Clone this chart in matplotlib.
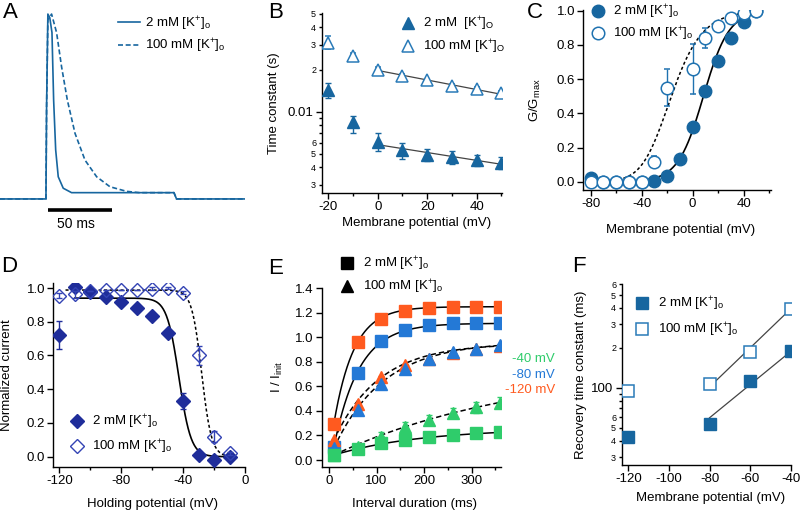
import matplotlib
matplotlib.use("Agg")
import matplotlib.pyplot as plt
import numpy as np
from matplotlib.lines import Line2D
from matplotlib.ticker import MultipleLocator, FuncFormatter, LogLocator

plt.rcParams['font.family'] = ['Liberation Sans', 'DejaVu Sans']
plt.rcParams['mathtext.fontset'] = 'custom'
plt.rcParams['mathtext.rm'] = 'Liberation Sans'
plt.rcParams['mathtext.it'] = 'Liberation Sans:italic'
plt.rcParams['mathtext.default'] = 'regular'
plt.rcParams['axes.unicode_minus'] = False
plt.rcParams['font.size'] = 9.5

# ============================================================
# Data
# ============================================================

# A: example currents (normalised), time in ms
trace_t_2mM = [-36, 0, 0.5, 1.5, 3.0, 4.7, 6.0, 7.6, 9.6, 13.5, 20, 40, 100, 102, 156]
trace_2mM = [0.0, 0.0, 0.5, 1.0, 0.98, 0.9, 0.535, 0.265, 0.12, 0.058, 0.034, 0.034, 0.034, 0.0, 0.0]
trace_t_100mM = [-36, 0, 0.5, 1.5, 4.4, 8.3, 12.2, 16.7, 22.7, 30.5, 39.6, 50, 63, 73, 100, 102, 156]
trace_100mM = [0.0, 0.0, 0.5, 0.97, 1.0, 0.9, 0.715, 0.535, 0.355, 0.21, 0.12, 0.066, 0.041, 0.034, 0.034, 0.0, 0.0]
scalebar_ms = 50

# B: inactivation time constants (s)
b_v = [-20, -10, 0, 10, 20, 30, 40, 50]
b_tau_2mM = [0.0143, 0.0084, 0.0061, 0.0053, 0.0049, 0.0047, 0.0045, 0.0043]
b_lo_2mM = [0.0125, 0.0070, 0.0052, 0.0046, 0.0044, 0.0042, 0.0041, 0.0039]
b_hi_2mM = [0.0160, 0.0093, 0.0070, 0.0060, 0.0054, 0.0052, 0.0049, 0.0047]
b_tau_100mM = [0.031, 0.025, 0.020, 0.018, 0.0167, 0.0153, 0.0145, 0.0136]
b_lo_100mM = [0.028, 0.0235, 0.019, 0.0173, 0.0161, 0.0149, 0.0140, 0.0132]
b_hi_100mM = [0.035, 0.0262, 0.0208, 0.0186, 0.0172, 0.0158, 0.0149, 0.0140]
b_fit_v = [0, 50]
b_fit_2mM = [0.0058, 0.0042]
b_fit_100mM = [0.0197, 0.0133]

# C: activation G/Gmax
c_v = [-80, -70, -60, -50, -40, -30, -20, -10, 0, 10, 20, 30, 40, 50]
c_g_2mM = [0.023, 0.0, 0.0, 0.0, 0.0, 0.004, 0.035, 0.134, 0.318, 0.53, 0.706, 0.842, 0.934, 1.0]
c_g_100mM = [0.0, 0.0, 0.0, 0.0, 0.0, 0.117, 0.55, None, 0.659, 0.838, 0.91, 0.955, 0.984, 1.0]
c_err_100mM = [0, 0, 0, 0, 0, 0.032, 0.107, 0, 0.146, 0.058, 0.02, 0.01, 0.005, 0]
c_fit_2mM = (8.5, 10.0)          # V1/2, slope (Boltzmann)
c_fit_100mM = (-29.0, 14.0, 2)   # V1/2, slope, power

# D: steady-state inactivation
d_v = [-120, -110, -100, -90, -80, -70, -60, -50, -40, -30, -20, -10]
d_i_2mM = [0.721, 1.004, 0.974, 0.949, 0.919, 0.883, 0.834, 0.735, 0.332, 0.01, -0.02, -0.004]
d_err_2mM = [0.083, 0.0, 0.0, 0.0, 0.0, 0.0, 0.0, 0.0, 0.048, 0.0, 0.0, 0.0]
d_i_100mM = [0.953, 0.962, 0.98, 0.988, 0.99, 0.99, 0.996, 1.0, 0.972, 0.60, 0.119, 0.02]
d_err_100mM = [0.015, 0.02, 0.0, 0.0, 0.0, 0.0, 0.008, 0.008, 0.01, 0.055, 0.033, 0.01]
d_fit_2mM = (0.94, -42.7, 3.9)    # amplitude, V1/2, slope
d_fit_100mM = (0.988, -28.0, 3.2)

# E: recovery from inactivation
e_t = [10, 60, 110, 160, 210, 260, 310, 360]
e_sq_120 = [0.292, 0.961, 1.151, 1.219, 1.240, 1.251, 1.251, 1.251]
e_sq_80 = [0.103, 0.709, 0.969, 1.061, 1.097, 1.116, 1.116, 1.116]
e_sq_40 = [0.04, 0.087, 0.136, 0.162, 0.184, 0.203, 0.217, 0.225]
e_sq_40_err = [0.01, 0.015, 0.02, 0.02, 0.025, 0.03, 0.035, 0.035]
e_tri_120 = [0.16, 0.46, 0.675, 0.772, 0.826, 0.875, 0.905, 0.93]
e_tri_80 = [0.095, 0.41, 0.623, 0.745, 0.82, 0.88, 0.902, 0.934]
e_tri_40 = [0.041, 0.103, 0.19, 0.272, 0.33, 0.385, 0.432, 0.468]
e_tri_40_err = [0.01, 0.02, 0.04, 0.035, 0.035, 0.04, 0.045, 0.045]
# single-exponential fits: start value, amplitude, tau (ms)
e_fit_sq = {'-120': (0.29, 0.96, 42), '-80': (0.10, 1.015, 53), '-40': (0.04, 0.218, 185)}
e_fit_tri = {'-120': (0.16, 0.79, 95), '-80': (0.095, 0.871, 105), '-40': (0.04, 0.738, 400)}

# F: recovery time constants (ms)
f_v = [-120, -80, -60, -40]
f_tau_2mM = [42.9, 53.7, 113.5, 188]
f_tau_100mM = [94.4, 107.2, 185, 393]
f_fit_v = [-80, -40]
f_fit_2mM = [59.6, 188]
f_fit_100mM = [101.7, 393]

TEAL = '#17669f'
NAVY = '#1f2d9a'
NAVY_OPEN = '#3343b4'
ORANGE = '#ff5a1f'
BLUE = '#2479d6'
GREEN = '#2fcc6b'

fig = plt.figure(figsize=(8, 5.12), dpi=100)


def px_axes(l, t, r, b):
    return fig.add_axes([l / 800, 1 - b / 512, (r - l) / 800, (b - t) / 512])


def style(ax):
    for s in ['top', 'right']:
        ax.spines[s].set_visible(False)
    for s in ['left', 'bottom']:
        ax.spines[s].set_linewidth(1.0)
    ax.tick_params(direction='out', length=4, width=1, labelsize=9.5, pad=2)
    ax.tick_params(which='minor', direction='out', length=2.5, width=1)


def legend(ax, handles, labels, x, y, hl=1.0, pad=0.7, sp=0.4):
    ax.legend(handles, labels, loc='upper left', bbox_to_anchor=(x, y), frameon=False,
              borderpad=0, borderaxespad=0, handlelength=hl, handletextpad=pad,
              labelspacing=sp, fontsize=9.5)


def small_digit(v, pos):
    d = v / 10 ** np.floor(np.log10(v) + 1e-9)
    d = int(round(d))
    return str(d) if d in (2, 3, 4, 5, 6) else ''


lab_2 = r'2 mM [K$^{+}$]$_{o}$'
lab_100 = r'100 mM [K$^{+}$]$_{o}$'

# ============================================================
# A
# ============================================================
axA = px_axes(0, 5, 245, 235)
axA.plot(trace_t_2mM, trace_2mM, color=TEAL, lw=1.2)
axA.plot(trace_t_100mM, trace_100mM, color=TEAL, lw=1.2, ls=(0, (3, 1.6)))
axA.plot([1.3, 1.3 + scalebar_ms], [-0.059, -0.059], color='black', lw=2.6, solid_capstyle='butt')
axA.text(1.3 + scalebar_ms / 2 - 3, -0.135, f'{scalebar_ms} ms', ha='center', va='center', fontsize=10)
axA.set_xlim(-35.9, 155.5)
axA.set_ylim(-0.195, 1.049)
axA.axis('off')
legend(axA, [Line2D([], [], color=TEAL, lw=1.2), Line2D([], [], color=TEAL, lw=1.2, ls=(0, (3, 1.6)))],
       [lab_2, lab_100], 0.482, 0.958, hl=1.67, pad=0.4, sp=0.35)

# ============================================================
# B
# ============================================================
axB = px_axes(321.7, 13.3, 502.3, 192.7)
style(axB)
axB.set_yscale('log')
axB.plot(b_fit_v, b_fit_2mM, color='#444444', lw=0.9, zorder=1)
axB.plot(b_fit_v, b_fit_100mM, color='#444444', lw=0.9, zorder=1)
axB.errorbar(b_v, b_tau_2mM,
             yerr=[np.subtract(b_tau_2mM, b_lo_2mM), np.subtract(b_hi_2mM, b_tau_2mM)],
             fmt='^', ms=9, mfc=TEAL, mec=TEAL, ecolor=TEAL, elinewidth=1, capsize=2.5, zorder=3)
axB.errorbar(b_v, b_tau_100mM,
             yerr=[np.subtract(b_tau_100mM, b_lo_100mM), np.subtract(b_hi_100mM, b_tau_100mM)],
             fmt='^', ms=9, mfc='white', mec='#2a7bb8', mew=1.1, ecolor='#2a7bb8', elinewidth=1,
             capsize=2.5, zorder=3)
axB.set_xlim(-22.7, 50.4)
axB.set_ylim(0.00263, 0.0505)
axB.xaxis.set_major_locator(MultipleLocator(20))
axB.xaxis.set_minor_locator(MultipleLocator(10))
axB.yaxis.set_major_locator(LogLocator(base=10))
axB.yaxis.set_major_formatter(FuncFormatter(lambda v, p: f'{v:g}'))
axB.yaxis.set_minor_locator(LogLocator(base=10, subs=np.arange(2, 10)))
axB.yaxis.set_minor_formatter(FuncFormatter(small_digit))
axB.tick_params(axis='y', which='minor', labelsize=6.5, pad=1.5)
axB.set_xlabel('Membrane potential (mV)')
axB.set_ylabel('Time constant (s)')
axB.xaxis.set_label_coords(0.526, -0.134)
axB.yaxis.set_label_coords(-0.231, 0.5)
legend(axB, [Line2D([], [], marker='^', ls='none', ms=9, mfc=TEAL, mec=TEAL),
             Line2D([], [], marker='^', ls='none', ms=9, mfc='white', mec='#2a7bb8', mew=1.1)],
       [r'2 mM  [K$^{+}$]$_{O}$', r'100 mM [K$^{+}$]$_{O}$'], 0.439, 0.992, pad=0.7, sp=0.4)

# ============================================================
# C
# ============================================================
axC = px_axes(583.3, 10, 770.7, 190)
style(axC)
vv = np.linspace(-80, 50, 300)
v50, k = c_fit_2mM
axC.plot(vv, 1 / (1 + np.exp((v50 - vv) / k)), color='black', lw=1.2, zorder=1)
v50, k, p = c_fit_100mM
axC.plot(vv, (1 / (1 + np.exp((v50 - vv) / k))) ** p, color='black', lw=1.1,
         ls=(0, (2, 1.6)), zorder=1)
axC.plot(c_v, c_g_2mM, 'o', ms=9, mfc=TEAL, mec=TEAL, zorder=3)
c_open = np.array([np.nan if g is None else g for g in c_g_100mM], dtype=float)
axC.errorbar(c_v, c_open, yerr=c_err_100mM, fmt='o', ms=9, mfc='white', mec='#1f72b0', mew=1.1,
             ecolor='#1f72b0', elinewidth=1, capsize=2.5, zorder=4)
axC.set_xlim(-85.8, 61.3)
axC.set_ylim(-0.0485, 1.004)
axC.xaxis.set_major_locator(MultipleLocator(40))
axC.xaxis.set_minor_locator(MultipleLocator(20))
axC.yaxis.set_major_locator(MultipleLocator(0.2))
axC.yaxis.set_major_formatter(FuncFormatter(lambda v, p: f'{v:.1f}'))
axC.set_xlabel('Membrane potential (mV)')
axC.set_ylabel(r'G/G$_{max}$')
axC.xaxis.set_label_coords(0.52, -0.189)
axC.yaxis.set_label_coords(-0.215, 0.5)
legend(axC, [Line2D([], [], marker='o', ls='none', ms=9, mfc=TEAL, mec=TEAL),
             Line2D([], [], marker='o', ls='none', ms=9, mfc='white', mec='#1f72b0', mew=1.1)],
       [lab_2, lab_100], 0.043, 1.04, pad=0.66, sp=0.3)

# ============================================================
# D
# ============================================================
axD = px_axes(53.3, 283.3, 245, 466.7)
style(axD)
amp, v50, k = d_fit_2mM
vv = np.linspace(-110, -10, 300)
axD.plot(vv, amp / (1 + np.exp((vv - v50) / k)), color='black', lw=1.2, zorder=1)
amp, v50, k = d_fit_100mM
vv = np.linspace(-116, -10, 300)
axD.plot(vv, amp / (1 + np.exp((vv - v50) / k)), color='black', lw=1.1, ls=(0, (2, 1.6)), zorder=1)
axD.errorbar(d_v, d_i_2mM, yerr=d_err_2mM, fmt='D', ms=7.5, mfc=NAVY, mec=NAVY, ecolor=NAVY,
             elinewidth=1, capsize=2.5, zorder=3)
axD.errorbar(d_v, d_i_100mM, yerr=d_err_100mM, fmt='D', ms=7.5, mfc='none', mec=NAVY_OPEN, mew=1.0,
             ecolor=NAVY_OPEN, elinewidth=1, capsize=2.5, zorder=4)
axD.set_xlim(-123.9, 0)
axD.set_ylim(-0.0593, 1.028)
axD.xaxis.set_major_locator(MultipleLocator(40))
axD.xaxis.set_minor_locator(MultipleLocator(20))
axD.yaxis.set_major_locator(MultipleLocator(0.2))
axD.yaxis.set_major_formatter(FuncFormatter(lambda v, p: f'{v:.1f}'))
axD.set_xlabel('Holding potential (mV)')
axD.set_ylabel('Normalized current')
axD.xaxis.set_label_coords(0.519, -0.170)
axD.yaxis.set_label_coords(-0.208, 0.5)
legend(axD, [Line2D([], [], marker='D', ls='none', ms=7.5, mfc=NAVY, mec=NAVY),
             Line2D([], [], marker='D', ls='none', ms=7.5, mfc='none', mec=NAVY_OPEN, mew=1.0)],
       [lab_2, lab_100], 0.091, 0.294, pad=0.6, sp=0.53)

# ============================================================
# E
# ============================================================
axE = px_axes(321.7, 287.7, 500.7, 466.7)
style(axE)
tt = np.linspace(10, 360, 300)
for key in ['-120', '-80', '-40']:
    y0, a, tau = e_fit_sq[key]
    axE.plot(tt, y0 + a * (1 - np.exp(-(tt - 10) / tau)), color='black', lw=1.1, zorder=1)
    y0, a, tau = e_fit_tri[key]
    axE.plot(tt, y0 + a * (1 - np.exp(-(tt - 10) / tau)), color='black', lw=1.1,
             ls=(0, (3.5, 2)), zorder=1)
axE.errorbar(e_t, e_sq_120, yerr=0.008, fmt='s', ms=8.5, mfc=ORANGE, mec=ORANGE, ecolor=ORANGE,
             elinewidth=1, capsize=2, zorder=3)
axE.errorbar(e_t, e_sq_80, yerr=0.008, fmt='s', ms=8.5, mfc=BLUE, mec=BLUE, ecolor=BLUE,
             elinewidth=1, capsize=2, zorder=3)
axE.errorbar(e_t, e_tri_120, yerr=0.008, fmt='^', ms=8.5, mfc=ORANGE, mec=ORANGE, ecolor=ORANGE,
             elinewidth=1, capsize=2, zorder=3)
axE.errorbar(e_t, e_tri_80, yerr=0.008, fmt='^', ms=8.5, mfc=BLUE, mec=BLUE, ecolor=BLUE,
             elinewidth=1, capsize=2, zorder=3)
axE.errorbar(e_t, e_sq_40, yerr=e_sq_40_err, fmt='s', ms=8.5, mfc=GREEN, mec=GREEN, ecolor=GREEN,
             elinewidth=1, capsize=2, zorder=3)
axE.errorbar(e_t, e_tri_40, yerr=e_tri_40_err, fmt='^', ms=8.5, mfc=GREEN, mec=GREEN, ecolor=GREEN,
             elinewidth=1, capsize=2, zorder=3)
axE.set_xlim(-15.3, 361)
axE.set_ylim(-0.0544, 1.405)
axE.xaxis.set_major_locator(MultipleLocator(100))
axE.xaxis.set_minor_locator(MultipleLocator(50))
axE.yaxis.set_major_locator(MultipleLocator(0.2))
axE.yaxis.set_major_formatter(FuncFormatter(lambda v, p: f'{v:.1f}'))
axE.set_xlabel('Interval duration (ms)')
axE.set_ylabel(r'I / I$_{init}$')
axE.xaxis.set_label_coords(0.521, -0.175)
axE.yaxis.set_label_coords(-0.205, 0.5)
legend(axE, [Line2D([], [], marker='s', ls='none', ms=8.5, mfc='black', mec='black'),
             Line2D([], [], marker='^', ls='none', ms=8.5, mfc='black', mec='black')],
       [lab_2, lab_100], 0.106, 1.184, pad=0.71, sp=0.4)
for lab, col, yf in [('-40 mV', GREEN, 0.602), ('-80 mV', BLUE, 0.512), ('-120 mV', ORANGE, 0.428)]:
    axE.text(1.303, yf, lab, color=col, ha='right', va='center', transform=axE.transAxes,
             fontsize=9.5)

# ============================================================
# F
# ============================================================
axF = px_axes(621.7, 284, 790.7, 465)
style(axF)
axF.set_yscale('log')
axF.plot(f_fit_v, f_fit_2mM, color='#444444', lw=0.9, zorder=1)
axF.plot(f_fit_v, f_fit_100mM, color='#444444', lw=0.9, zorder=1)
axF.plot(f_v, f_tau_2mM, 's', ms=9, mfc=TEAL, mec=TEAL, zorder=3)
axF.plot(f_v, f_tau_100mM, 's', ms=9, mfc='white', mec='#2a7bb8', mew=1.1, zorder=3)
axF.set_xlim(-123.3, -40)
axF.set_ylim(26.3, 605)
axF.xaxis.set_major_locator(MultipleLocator(20))
axF.yaxis.set_major_locator(LogLocator(base=10))
axF.yaxis.set_major_formatter(FuncFormatter(lambda v, p: f'{v:g}'))
axF.yaxis.set_minor_locator(LogLocator(base=10, subs=np.arange(2, 10)))
axF.yaxis.set_minor_formatter(FuncFormatter(small_digit))
axF.tick_params(axis='y', which='minor', labelsize=6.5, pad=1.5)
axF.set_xlabel('Membrane potential (mV)')
axF.set_ylabel('Recovery time constant (ms)')
axF.xaxis.set_label_coords(0.525, -0.151)
axF.yaxis.set_label_coords(-0.205, 0.5)
legend(axF, [Line2D([], [], marker='s', ls='none', ms=9, mfc=TEAL, mec=TEAL),
             Line2D([], [], marker='s', ls='none', ms=9, mfc='white', mec='#2a7bb8', mew=1.1)],
       [lab_2, lab_100], 0.083, 0.9376, pad=0.71, sp=0.6)

# panel letters
for letter, x, y in [('A', 3, 13), ('B', 268, 12), ('C', 527, 12),
                     ('D', 1, 266), ('E', 268, 269), ('F', 572, 266)]:
    fig.text(x / 800, 1 - y / 512, letter, fontsize=16, ha='left', va='center')

fig.savefig('out.png', dpi=100)
